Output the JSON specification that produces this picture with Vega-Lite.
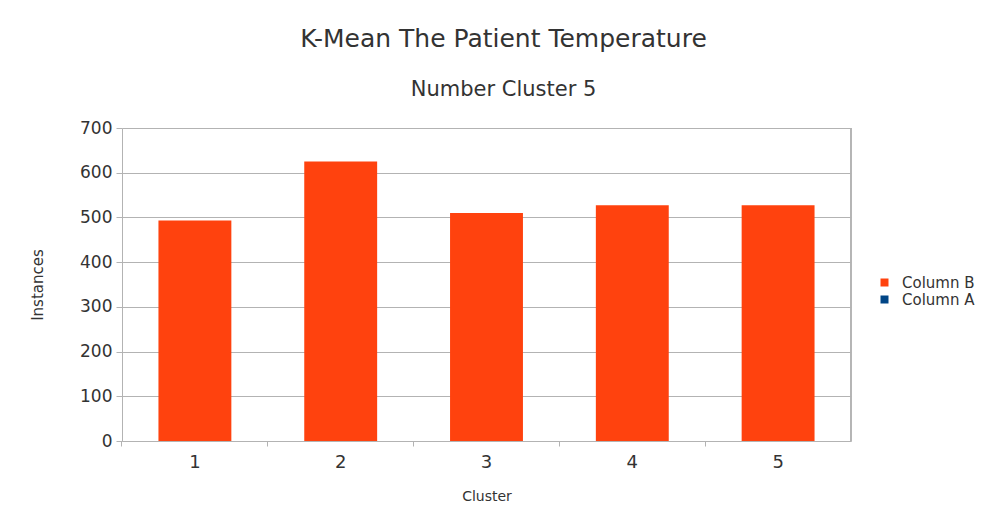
{
  "$schema": "https://vega.github.io/schema/vega-lite/v6.json",
  "width": 729,
  "height": 313,
  "autosize": {"type": "none"},
  "padding": {"left": 122, "top": 128, "right": 139, "bottom": 82},
  "background": "#ffffff",
  "title": {
    "text": "K-Mean The Patient Temperature",
    "subtitle": "Number Cluster 5",
    "anchor": "middle",
    "frame": "group",
    "dx": 17,
    "offset": 19,
    "font": "DejaVu Sans",
    "fontSize": 25,
    "fontWeight": "normal",
    "color": "#333333",
    "subtitleFont": "DejaVu Sans",
    "subtitleFontSize": 21,
    "subtitleColor": "#333333",
    "subtitlePadding": 27
  },
  "data": {
    "values": [
      {"cluster": "1", "instances": 493, "series": "Column B"},
      {"cluster": "2", "instances": 625, "series": "Column B"},
      {"cluster": "3", "instances": 510, "series": "Column B"},
      {"cluster": "4", "instances": 527, "series": "Column B"},
      {"cluster": "5", "instances": 527, "series": "Column B"}
    ]
  },
  "config": {
    "view": {"stroke": null},
    "font": "DejaVu Sans"
  },
  "layer": [
    {
      "mark": {"type": "bar"},
      "encoding": {
        "x": {
          "field": "cluster",
          "type": "ordinal",
          "title": "Cluster",
          "scale": {"paddingInner": 0.5, "paddingOuter": 0.25},
          "axis": {
            "labelAngle": 0,
            "labelFontSize": 18,
            "labelColor": "#333333",
            "labelPadding": 7,
            "titleFontSize": 14,
            "titleFontWeight": "normal",
            "titleColor": "#333333",
            "titlePadding": 18,
            "domainColor": "#b3b3b3",
            "tickColor": "#b3b3b3",
            "tickSize": 5,
            "bandPosition": -0.5
          }
        },
        "y": {
          "field": "instances",
          "type": "quantitative",
          "title": "Instances",
          "scale": {"domain": [0, 700], "nice": false},
          "axis": {
            "values": [0, 100, 200, 300, 400, 500, 600, 700],
            "labelFontSize": 17,
            "labelColor": "#333333",
            "labelPadding": 4,
            "titleFontSize": 15,
            "titleFontWeight": "normal",
            "titleColor": "#333333",
            "titlePadding": 34,
            "domainColor": "#b3b3b3",
            "tickColor": "#b3b3b3",
            "tickSize": 6,
            "gridColor": "#b3b3b3",
            "grid": true
          }
        },
        "color": {
          "field": "series",
          "type": "nominal",
          "scale": {"domain": ["Column B", "Column A"], "range": ["#ff420e", "#004586"]},
          "legend": {
            "title": null,
            "orient": "none",
            "legendX": 755,
            "legendY": 147,
            "symbolType": "square",
            "symbolSize": 64,
            "symbolStrokeWidth": 0,
            "labelFontSize": 15,
            "labelColor": "#333333",
            "rowPadding": 1,
            "labelOffset": 10,
            "labelLimit": 300
          }
        }
      }
    },
    {
      "mark": {"type": "rule", "color": "#b3b3b3"},
      "encoding": {
        "x": {"value": 729},
        "y": {"value": 0},
        "y2": {"value": 313}
      }
    }
  ]
}
